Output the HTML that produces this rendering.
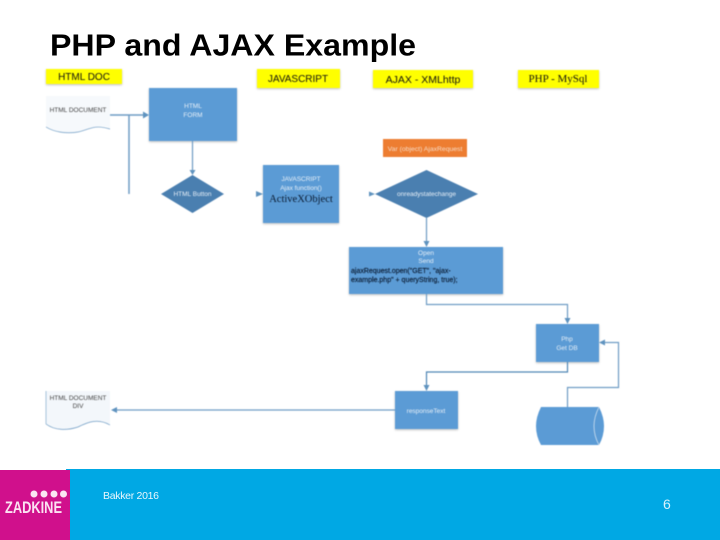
<!DOCTYPE html>
<html><head><meta charset="utf-8"><style>
html,body{margin:0;padding:0;background:#fff;width:720px;height:540px;overflow:hidden}
svg{display:block}
text{font-family:"Liberation Sans",sans-serif}
.serif{font-family:"Liberation Serif",serif}
.w{fill:#e8f0f8;font-size:6.5px;text-anchor:middle}
.k{fill:#444;font-size:6.5px;text-anchor:middle}
.y{fill:#ffff00;filter:drop-shadow(0.5px 1px 1px rgba(0,0,0,.25))}
.b{fill:#5b9bd5;filter:drop-shadow(0.5px 1px 1px rgba(0,0,0,.25))}
.l{fill:none;stroke:#6f9cc4;stroke-width:1.2}
.a{fill:#5f93bf}
</style></head><body>
<svg width="720" height="540" viewBox="0 0 720 540" xmlns="http://www.w3.org/2000/svg">
<text x="50" y="55.500" font-size="31" font-weight="bold" fill="#000" textLength="366" lengthAdjust="spacingAndGlyphs">PHP and AJAX Example</text>
<g style="filter:blur(0.4px)">
<rect class="y" x="46" y="69" width="76" height="15"/>
<rect class="y" x="257" y="69" width="83" height="19"/>
<rect class="y" x="373" y="70" width="100" height="18"/>
<rect class="y" x="518" y="70" width="81" height="18"/>
<text x="84" y="80" font-size="10" fill="#111" text-anchor="middle">HTML DOC</text>
<text x="298" y="82" font-size="10" fill="#111" text-anchor="middle">JAVASCRIPT</text>
<text x="423" y="83" font-size="10.500" fill="#111" text-anchor="middle">AJAX - XMLhttp</text>
<text x="558" y="82" font-size="11" fill="#111" text-anchor="middle" class="serif">PHP - MySql</text>

<path d="M46 96H110V128C100 123 92 130 78 132C66 134 54 132 46 127Z" fill="#f6f9fc"/>
<path d="M46 127C54 132 66 134 78 132C88 130 94 124 110 129" class="l" style="stroke-width:.7"/>
<text class="k" x="78" y="112">HTML DOCUMENT</text>
<path d="M46 391H110V425C100 418 92 420 78 427C66 431 54 430 46 424Z" fill="#f3f7fb"/>
<path d="M46 424C54 430 66 431 78 427C88 422 98 418 110 425" class="l" style="stroke-width:.7"/>
<path d="M46 391V424" class="l" style="stroke-width:.6"/>
<text class="k" x="78" y="400">HTML DOCUMENT</text>
<text class="k" x="78" y="408">DIV</text>

<rect class="b" x="149" y="88" width="88" height="53"/>
<text class="w" x="193" y="108">HTML</text>
<text class="w" x="193" y="117">FORM</text>
<polygon points="161,194 192.500,175 224,194 192.500,213" fill="#4a7fb0"/>
<text class="w" x="192.500" y="196">HTML Button</text>
<rect class="b" x="263" y="165" width="76" height="58"/>
<text class="w" x="301" y="181">JAVASCRIPT</text>
<text class="w" x="301" y="190">Ajax function()</text>
<text x="301" y="202" font-size="10.500" fill="#0a1a30" text-anchor="middle" class="serif">ActiveXObject</text>

<rect x="383" y="139" width="84" height="18" fill="#ed7d31"/>
<text x="425" y="151" font-size="6.800" fill="#f6dcc8" text-anchor="middle">Var (object) AjaxRequest</text>
<polygon points="375,194 426.500,170 478,194 426.500,218" fill="#4a7fb0"/>
<text class="w" x="426.500" y="196">onreadystatechange</text>
<rect class="b" x="349" y="247" width="154" height="47"/>
<text class="w" x="426" y="255">Open</text>
<text class="w" x="426" y="263">Send</text>
<text x="351" y="273" font-size="7" fill="#0a1a30" stroke="#0a1a30" stroke-width="0.15">ajaxRequest.open("GET", "ajax-</text>
<text x="351" y="282" font-size="7" fill="#0a1a30" stroke="#0a1a30" stroke-width="0.15">example.php" + queryString, true);</text>

<rect class="b" x="536" y="324" width="63" height="38"/>
<text class="w" x="567" y="341">Php</text>
<text class="w" x="567" y="350">Get DB</text>
<rect class="b" x="395" y="391" width="63" height="38"/>
<text class="w" x="426" y="413">responseText</text>
<path d="M541 407H599Q604 417 604 426Q604 436 599 445H541Q536 436 536 426Q536 417 541 407Z" fill="#5b9bd5"/>
<path d="M599 407Q594 417 594 426Q594 436 599 445" fill="none" stroke="#cfe0f0" stroke-width="0.8"/>

<path class="l" style="stroke-width:1.500" d="M110 115H145M129 115V194"/>
<polygon class="a" points="149,115 143,111.500 143,118.500"/>
<path class="l" d="M192.500 141V171"/>
<polygon class="a" points="192.500,175 189.500,170 195.500,170"/>
<polygon class="a" points="263,194 256,191 256,197"/>
<polygon class="a" points="375,194 369,191.500 369,196.500"/>
<path class="l" d="M426.500 218V243"/>
<polygon class="a" points="426.500,247 423.500,241 429.500,241"/>
<path class="l" d="M426.500 294V304.500H567.500V320"/>
<polygon class="a" points="567.500,324 564.500,318 570.500,318"/>
<path class="l" style="stroke:#4f86b5" d="M567.500 362V372H426.500V387"/>
<polygon class="a" points="426.500,391 423.500,385 429.500,385"/>
<path class="l" d="M567.500 407V387.500H618.500V342.500H603"/>
<polygon class="a" points="599,342.500 605,339.500 605,345.500"/>
<path class="l" d="M395 410H116"/>
<polygon class="a" points="111,410 117,407 117,413"/>
</g>

<rect x="66" y="469" width="654" height="71" fill="#00a8e4"/>
<rect x="0" y="470" width="70" height="70" fill="#d0108c"/>
<circle cx="34" cy="494" r="3.500" fill="#fbe3f2"/>
<circle cx="44" cy="494" r="3.500" fill="#fbe3f2"/>
<circle cx="54" cy="494" r="3.500" fill="#fbe3f2"/>
<circle cx="63.500" cy="494" r="3.500" fill="#fbe3f2"/>
<text x="5" y="513" font-size="17" font-weight="bold" fill="#fbe3f2" textLength="57" lengthAdjust="spacingAndGlyphs">ZADKINE</text>
<text x="103" y="499" font-size="10.500" fill="#eaf7fd" textLength="56" lengthAdjust="spacing">Bakker 2016</text>
<text x="663" y="509" font-size="14" fill="#d8f2fc">6</text>
</svg>
</body></html>
